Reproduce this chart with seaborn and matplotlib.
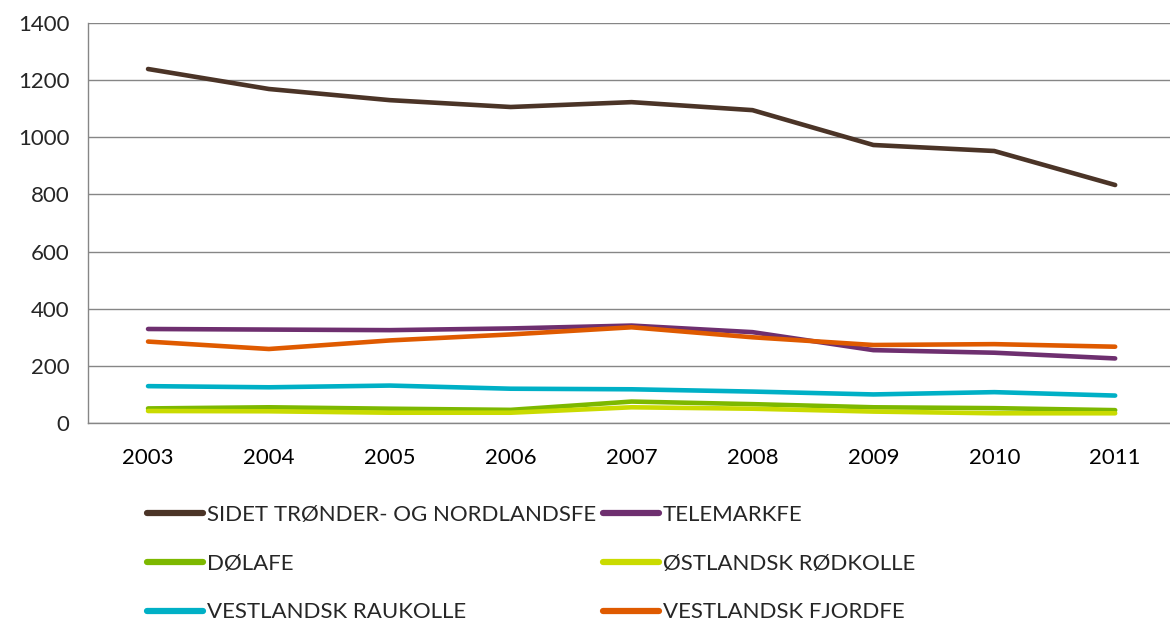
import matplotlib
matplotlib.use("Agg")
import matplotlib.pyplot as plt
import seaborn as sns
import pandas as pd
from matplotlib import font_manager

years = [2003, 2004, 2005, 2006, 2007, 2008, 2009, 2010, 2011]
breeds = ["SIDET TRØNDER- OG NORDLANDSFE", "TELEMARKFE", "DØLAFE",
          "ØSTLANDSK RØDKOLLE", "VESTLANDSK RAUKOLLE", "VESTLANDSK FJORDFE"]
sidet = [1239, 1169, 1130, 1106, 1123, 1095, 973, 952, 833]
telemark = [329, 327, 325, 331, 341, 318, 255, 246, 226]
dolafe = [51, 55, 50, 46, 75, 66, 55, 52, 45]
ostlandsk = [42, 41, 36, 36, 55, 50, 40, 34, 34]
raukolle = [129, 125, 131, 120, 118, 110, 100, 108, 96]
fjordfe = [285, 259, 289, 310, 335, 300, 273, 276, 267]
colors = ["#4B3427", "#6E2F6F", "#7DB800", "#CADB00", "#00B0C6", "#DF5A00"]

series = [sidet, telemark, dolafe, ostlandsk, raukolle, fjordfe]
df = pd.DataFrame([(y, b, v) for b, vals in zip(breeds, series) for y, v in zip(years, vals)],
                  columns=["year", "breed", "value"])

sns.set_style("white")
avail = {f.name for f in font_manager.fontManager.ttflist}
fam = [f for f in ["Lato", "DejaVu Sans"] if f in avail]
plt.rcParams["font.family"] = fam

FS = 16
fig = plt.figure(figsize=(11.7, 6.2), dpi=100)
ax = fig.add_axes([87.6/1170, 1-423/620, 1088/1170, 400/620])
sns.lineplot(data=df, x="year", y="value", hue="breed", hue_order=breeds,
             palette=colors, linewidth=3.3, ax=ax, legend=True)

ax.set_xlim(2002.5, 2011.5)
ax.set_ylim(0, 1400)
ax.set_yticks(range(0, 1401, 200))
ax.set_xticks(years)
ax.set_xticks([y - 0.5 for y in years] + [2011.5], minor=True)
ax.tick_params(axis="x", which="major", length=0, labelsize=FS, pad=18, colors="black")
ax.tick_params(axis="x", which="minor", length=8, width=1, color="#868686", direction="out")
ax.tick_params(axis="y", length=8, width=1, color="#868686", direction="out", labelsize=FS, pad=5)
ax.set_xlabel("")
ax.set_ylabel("")
ax.grid(axis="y", color="#868686", linewidth=1)
ax.set_axisbelow(True)
for s in ["top", "right"]:
    ax.spines[s].set_visible(False)
for s in ["left", "bottom"]:
    ax.spines[s].set_color("#868686")
    ax.spines[s].set_linewidth(1)

handles, labels = ax.get_legend_handles_labels()
ax.get_legend().remove()
for h in handles:
    h.set_linewidth(4.5)
    h.set_solid_capstyle("round")
kw = dict(loc="upper left", bbox_transform=fig.transFigure, frameon=False, fontsize=FS,
          handlelength=2.5, handletextpad=0.18, labelspacing=1.29,
          borderaxespad=0, borderpad=0)
col1 = [0, 2, 4]
col2 = [1, 3, 5]
leg1 = ax.legend([handles[i] for i in col1], [labels[i] for i in col1],
                 bbox_to_anchor=(147/1170, 1-505/620), **kw)
ax.add_artist(leg1)
ax.legend([handles[i] for i in col2], [labels[i] for i in col2],
          bbox_to_anchor=(603/1170, 1-505/620), **kw)

fig.savefig("out.png", dpi=100)
